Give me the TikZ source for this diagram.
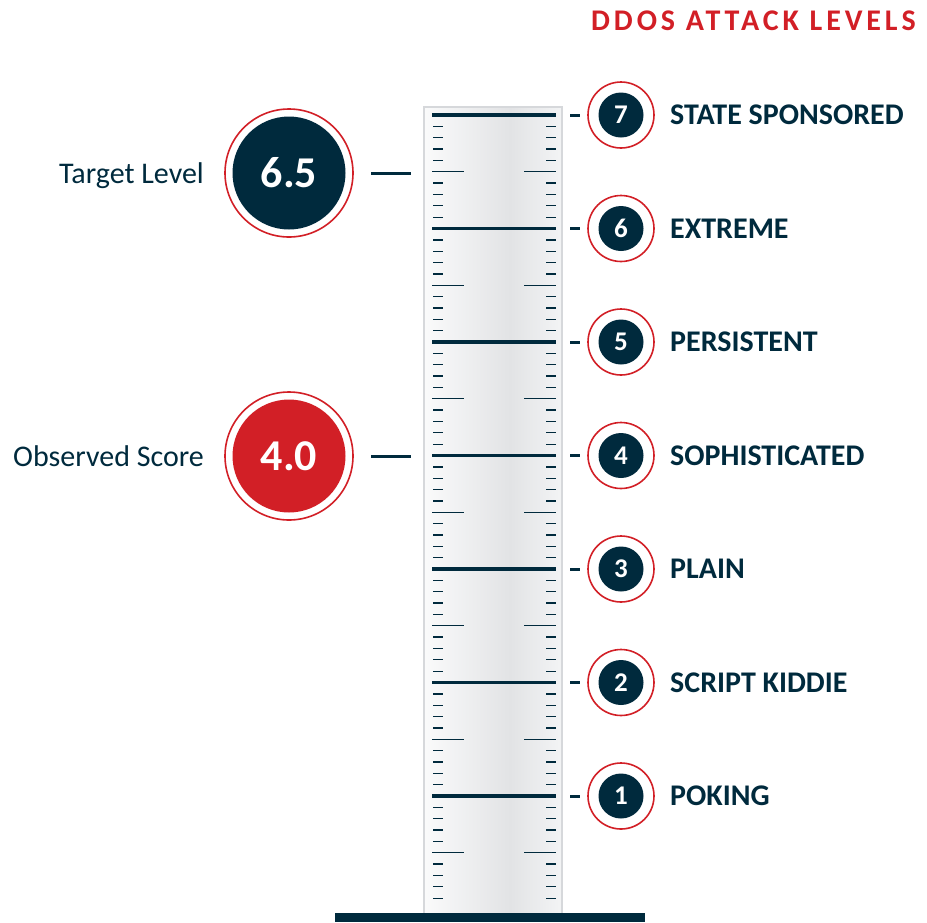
\documentclass[tikz,border=0pt]{standalone}
\usepackage{fontspec}
\setmainfont{Carlito}
\definecolor{navy}{HTML}{002A3D}
\definecolor{ddred}{HTML}{D21F26}
\definecolor{tubeedge}{HTML}{D6D8DB}
\definecolor{tubedark}{HTML}{E2E3E5}
\definecolor{tubelight}{HTML}{F3F4F5}
\tikzset{
  major/.style={draw=navy,line width=3.5pt},
  minor/.style={draw=navy,line width=1.3pt},
  pointer/.style={draw=navy,line width=3pt},
  lvlring/.style={circle,draw=ddred,line width=1.6pt,fill=white,minimum size=66pt,inner sep=0pt},
  lvldot/.style={circle,fill=navy,minimum size=45pt,inner sep=0pt},
  lvlnum/.style={text=white,font=\fontsize{27}{27}\selectfont\bfseries,inner sep=0pt,anchor=base},
  lvltext/.style={text=navy,font=\fontsize{30}{30}\selectfont\bfseries,inner sep=0pt,anchor=base west},
  bigring/.style={circle,draw=ddred,line width=1.6pt,fill=white,minimum size=128pt,inner sep=0pt},
  bignum/.style={text=white,font=\fontsize{44}{44}\selectfont\bfseries,inner sep=0pt,anchor=base},
  sidetext/.style={text=navy,font=\fontsize{30}{30}\selectfont,inner sep=0pt,anchor=base east}
}
\begin{document}
\begin{tikzpicture}[x=1pt,y=-1pt]
\useasboundingbox (0,0) rectangle (927,922);
% title
\node[text=ddred,font=\fontsize{30}{30}\selectfont\bfseries\addfontfeature{LetterSpace=13},inner sep=0pt,anchor=base west] (title) at (591,30.5) {DDOS ATTACK LEVELS};
% tube
\shade[left color=tubelight!40!white,right color=tubedark] (424,107) rectangle (510,913);
\shade[left color=tubedark,right color=tubelight] (510,107) rectangle (562,913);
\draw[tubeedge,line width=1.8pt] (424,913) -- (424,107) -- (562,107) -- (562,913);
% base
\fill[navy] (335,913) rectangle (645,922);
% ticks
\foreach \k in {1,...,7}{
  \pgfmathsetmacro{\yk}{796-(\k-1)*113.5}
  \draw[major] (432,\yk) -- (556,\yk);
  \foreach \j in {1,...,9}{
    \pgfmathsetmacro{\yj}{\yk+\j*11.35}
    \ifnum\j=5
      \draw[minor] (432,\yj) -- (464,\yj);
      \draw[minor] (524,\yj) -- (556,\yj);
    \else
      \draw[minor] (433,\yj) -- (443,\yj);
      \draw[minor] (546,\yj) -- (556,\yj);
    \fi
  }
}
% levels
\foreach \k/\name in {1/POKING,2/SCRIPT KIDDIE,3/PLAIN,4/SOPHISTICATED,5/PERSISTENT,6/EXTREME,7/STATE SPONSORED}{
  \pgfmathsetmacro{\yk}{796-(\k-1)*113.5}
  \coordinate (tick\k) at (570,\yk);
  \node[lvlring] (ring\k) at (621,\yk) {};
  \node[lvldot] (dot\k) at (ring\k) {};
  \node[lvlnum] (num\k) at ([yshift=-8.6pt]dot\k.center) {\k};
  \node[lvltext] (lab\k) at (670,\yk+9.5) {\name};
  \draw[pointer] (tick\k) -- ++(10,0);
}
% target level
\node[bigring] (tring) at (289,173) {};
\node[circle,fill=navy,minimum size=113pt,inner sep=0pt] (tdot) at (tring) {};
\node[bignum] (tnum) at ([yshift=-14pt]tdot.center) {6.5};
\node[sidetext] (tlab) at (204,183) {Target Level};
\coordinate (tp1) at (371,173);
\coordinate (tp2) at (411,173);
\draw[pointer] (tp1) -- (tp2);
% observed score
\node[bigring] (oring) at (289,456) {};
\node[circle,fill=ddred,minimum size=113pt,inner sep=0pt] (odot) at (oring) {};
\node[bignum] (onum) at ([yshift=-14pt]odot.center) {4.0};
\node[sidetext] (olab) at (204,466) {Observed Score};
\coordinate (op1) at (371,456);
\coordinate (op2) at (411,456);
\draw[pointer] (op1) -- (op2);
\end{tikzpicture}
\end{document}
